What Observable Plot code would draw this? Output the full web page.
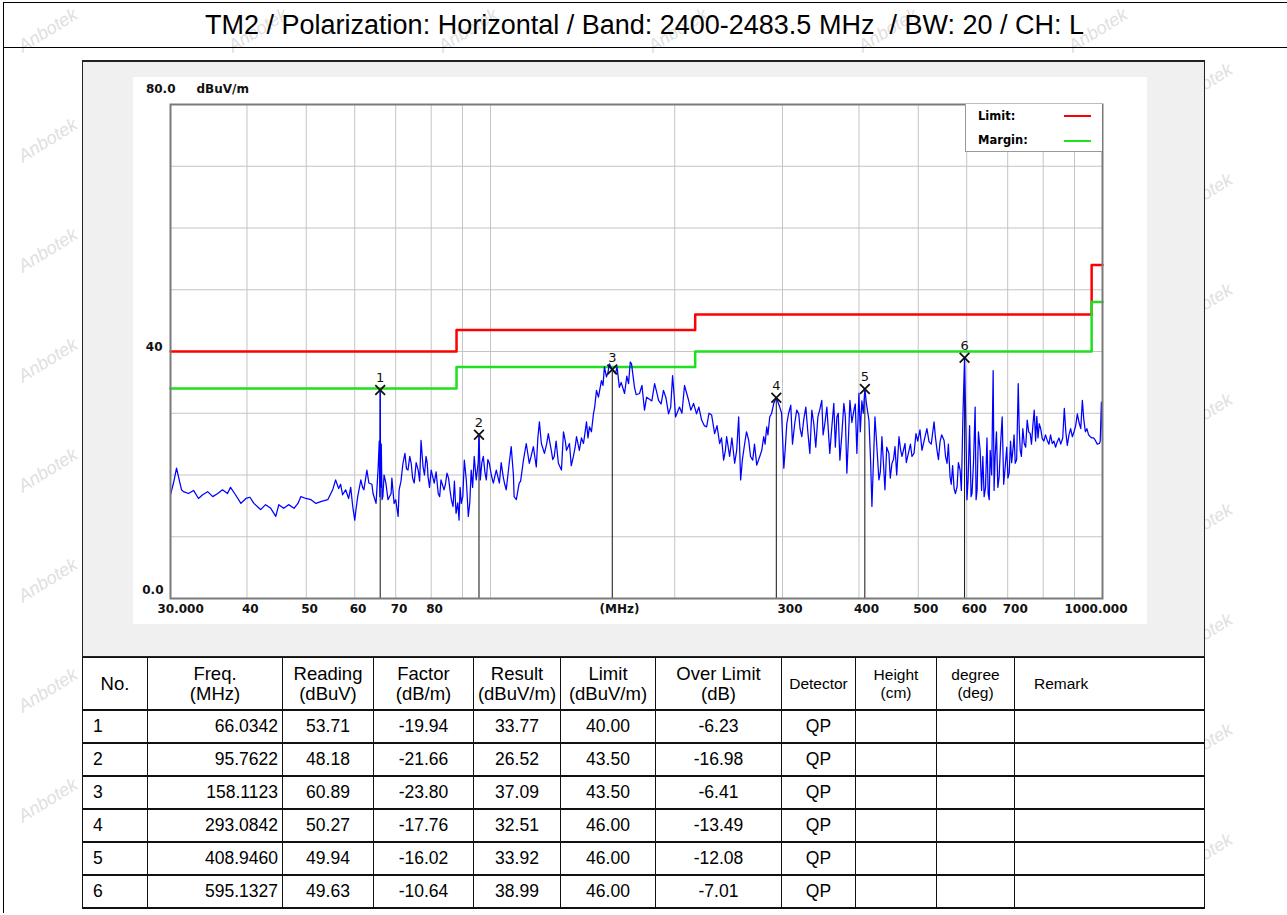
<!DOCTYPE html>
<html><head><meta charset="utf-8">
<script src="https://cdn.jsdelivr.net/npm/d3@7"></script>
<script src="https://cdn.jsdelivr.net/npm/@observablehq/plot@0.6"></script>
<style>
html,body{margin:0;padding:0;background:#fff;}
body{width:1287px;height:915px;position:relative;overflow:hidden;font-family:"Liberation Sans",Arial,sans-serif;}
.wm{position:absolute;color:#e0e0e0;font:italic 18px "Liberation Sans",Arial,sans-serif;transform:rotate(-32deg);white-space:nowrap;z-index:0;}
#outer{position:absolute;left:3px;top:2px;width:1283px;height:910px;border-left:1px solid #000;border-top:1px solid #000;z-index:1;}
#sep{position:absolute;left:3px;top:47px;width:1284px;height:0;border-top:1px solid #000;z-index:1;}
#title{position:absolute;left:3px;top:3px;width:1283px;height:44px;line-height:44px;text-align:center;font-size:27px;white-space:pre;color:#000;z-index:2;}
#panel{position:absolute;left:82px;top:60px;width:1121px;height:594px;background:#f0f0f0;border-top:2px solid #222;border-left:1px solid #222;border-right:1px solid #222;border-bottom:1px solid #222;z-index:2;}
#chart{position:absolute;left:133px;top:77px;z-index:3;}
#legend{position:absolute;left:965px;top:104px;width:136px;height:47px;background:#fff;border-left:1px solid #999;border-bottom:1px solid #999;z-index:4;font:bold 11.5px "DejaVu Sans",sans-serif;}
#legend .t{position:absolute;left:12px;}
#legend .l{position:absolute;left:98px;width:27px;height:0;border-top:2px solid;}
table{position:absolute;left:82px;top:657px;border-collapse:collapse;background:#fff;z-index:2;table-layout:fixed;}
td,th{border:1px solid #111;padding:0;font-weight:normal;color:#000;}
th{height:51px;font-size:18.5px;line-height:20px;}
th.s{font-size:15.5px;line-height:18px;}
td{height:31px;font-size:17.5px;text-align:center;border-bottom-width:2px;border-top-width:2px;}
td.no{text-align:left;padding-left:10px;}
td.fr{text-align:right;padding-right:4px;}
</style></head>
<body>
<div id="wms"></div>
<div id="outer"></div>
<div id="sep"></div>
<div id="title">TM2 / Polarization: Horizontal / Band: 2400-2483.5 MHz  / BW: 20 / CH: L</div>
<div id="panel"></div>
<div id="chart"></div>
<div id="legend">
  <div class="t" style="top:5px">Limit:</div><div class="l" style="top:11px;border-color:#ff0000"></div>
  <div class="t" style="top:29px">Margin:</div><div class="l" style="top:36px;border-color:#1fe01f"></div>
</div>
<table id="tbl"></table>
<script>
// ---------- data ----------
const markerNo = [1, 2, 3, 4, 5, 6];
const markerFreq = [66.0342, 95.7622, 158.1123, 293.0842, 408.9460, 595.1327];
const markerReading = [53.71, 48.18, 60.89, 50.27, 49.94, 49.63];
const markerFactor = [-19.94, -21.66, -23.80, -17.76, -16.02, -10.64];
const markerResult = [33.77, 26.52, 37.09, 32.51, 33.92, 38.99];
const markerLimit = [40.00, 43.50, 43.50, 46.00, 46.00, 46.00];
const markerOver = [-6.23, -16.98, -6.41, -13.49, -12.08, -7.01];
const markerDetector = ["QP", "QP", "QP", "QP", "QP", "QP"];

const limitFreq = [30, 88, 216, 960, 1000];
const limitLevel = [40, 43.5, 46, 54, 54];
const marginLevel = [34, 37.5, 40, 48, 48];

const xGridFreq = [40, 50, 60, 70, 80, 90, 100, 200, 300, 400, 500, 600, 700, 800, 900];
const yGridLevel = [10, 20, 30, 40, 50, 60, 70];
const xTickFreq = [40, 50, 60, 70, 80, 300, 400, 500, 600, 700];
const xTickLabel = ["40", "50", "60", "70", "80", "300", "400", "500", "600", "700"];
const xEndFreq = [30, 1000];
const xEndLabel = ["30.000", "1000.000"];
const yTickLevel = [80, 40, 0];
const yTickLabel = ["80.0", "40", "0.0"];
const unitY = "dBuV/m";
const unitX = "(MHz)";

const trace = [
[30.00,16.8],[30.34,18.7],[30.69,21.1],[30.92,19.7],[31.27,17.6],[31.50,17.3],[32.10,17.0],[32.72,17.5],[33.33,16.2],[33.86,16.8],
[34.50,17.3],[35.17,16.5],[35.83,17.0],[36.48,17.6],[37.17,17.0],[37.60,18.0],[38.31,16.8],[39.10,15.4],[39.84,16.2],[40.45,16.4],
[41.06,15.4],[42.10,14.4],[42.90,15.2],[43.75,14.6],[44.58,13.3],[45.09,15.2],[45.92,14.6],[46.78,15.2],[47.74,14.6],[48.46,15.4],
[49.00,16.5],[49.93,16.2],[50.90,16.0],[51.87,15.4],[52.80,15.7],[54.21,16.0],[55.22,17.6],[55.84,19.2],[56.48,17.8],[56.9,18.5],
[57.33,16.8],[57.98,17.6],[58.64,16.2],[59.1,18.0],[59.55,14.9],[60.00,12.7],[60.3,14.5],[60.68,16.5],[61.40,19.2],[61.8,18.0],
[62.10,17.6],[62.81,20.8],[63.28,18.7],[64.0,18.5],[64.28,17.0],[65.01,15.4],[65.50,20.8],[65.80,25.5],[65.95,16.5],[66.0342,33.77],
[66.15,18.0],[66.30,25.0],[66.50,16.0],[66.70,16.5],[67.0,20.0],[67.46,18.7],[68.0,16.0],[68.80,17.0],[69.0,19.5],[69.58,15.4],
[70.0,16.0],[70.64,13.3],[70.91,17.6],[71.4,19.0],[71.94,21.9],[72.48,23.5],[72.9,21.0],[73.31,20.8],[73.8,23.0],[74.20,21.9],
[74.6,19.5],[75.05,18.7],[75.6,22.0],[76.18,20.8],[76.6,19.0],[77.00,25.6],[77.59,21.3],[78.0,20.0],[78.46,23.0],[78.8,22.0],
[79.06,19.7],[79.5,18.0],[80.00,20.8],[80.91,18.7],[81.5,20.5],[82.14,17.0],[82.6,16.5],[83.00,19.2],[83.95,17.6],[84.4,18.5],
[84.90,20.3],[85.4,19.5],[85.86,17.6],[86.3,16.0],[86.86,14.9],[87.3,19.0],[87.84,13.8],[88.4,15.5],[88.84,12.7],[89.2,18.0],
[89.60,15.4],[90.1,16.5],[90.62,22.4],[91.30,19.2],[91.99,13.3],[92.5,15.5],[93.00,20.8],[93.5,18.0],[94.06,23.0],[94.77,19.2],
[95.48,22.0],[95.7622,26.52],[96.23,19.2],[96.8,22.0],[97.33,23.0],[97.9,20.5],[98.44,19.2],[99.0,22.5],[99.56,21.9],[100.3,20.0],
[101.06,18.7],[102.2,20.8],[103.4,18.7],[104.1,22.0],[104.9,19.7],[105.5,18.5],[106.1,17.6],[107.3,21.9],[108.1,24.6],[109.0,20.0],
[109.3,16.5],[110.2,16.0],[111.4,18.7],[112.0,19.0],[113.2,22.4],[114.4,25.1],[115.7,21.9],[116.5,23.0],[117.5,24.6],[118.8,21.3],
[119.5,26.0],[120.2,28.6],[121.1,25.1],[122.5,23.5],[123.5,25.0],[124.3,26.7],[125.7,24.0],[126.4,22.5],[127.1,23.0],[128.0,25.5],
[129.1,21.9],[130.6,20.8],[131.6,27.0],[132.5,25.5],[133.1,24.0],[134.6,25.1],[135.5,21.5],[136.6,23.0],[137.5,24.5],[138.2,26.2],
[139.7,24.0],[140.8,26.0],[141.9,25.1],[143.5,28.6],[144.3,26.0],[145.1,27.8],[146.2,27.0],[147.3,29.9],[148.0,31.0],[149.0,33.7],
[150.1,32.6],[151.8,35.3],[152.7,34.5],[153.5,37.5],[154.7,35.9],[155.5,36.5],[156.4,38.0],[157.3,37.5],[158.1123,37.09],[160.0,36.4],
[161.0,37.5],[162.4,34.2],[163.5,35.0],[165.6,33.2],[167.0,36.0],[168.1,34.8],[169.2,38.3],[170.0,38.0],[171.9,34.2],[173.0,33.0],
[175.2,33.2],[176.8,34.5],[178.5,30.5],[179.9,32.6],[183.5,32.0],[185.4,34.8],[186.8,33.5],[188.2,32.1],[190.0,31.5],[191.7,33.7],
[193.5,32.5],[195.4,29.9],[197.0,31.0],[198.4,36.1],[199.5,33.0],[200.6,29.4],[203.6,31.0],[205.5,30.0],[207.5,34.5],[210.7,32.1],
[212.5,30.5],[214.7,31.6],[217.1,29.9],[219.0,31.0],[221.3,28.9],[223.5,28.0],[225.5,27.8],[227.5,30.0],[229.8,29.7],[232.4,26.7],
[234.5,28.0],[236.8,25.1],[238.5,26.0],[240.4,22.4],[242.0,24.0],[243.1,26.2],[245.9,23.0],[248.0,26.0],[250.6,21.9],[252.5,24.0],
[254.4,29.4],[256.3,19.2],[258.0,22.5],[260.2,25.1],[262.0,27.0],[264.2,25.6],[266.0,23.0],[268.2,22.4],[270.0,25.0],[272.3,21.6],
[275.4,23.0],[277.5,24.0],[279.5,26.2],[281.0,25.0],[282.7,27.8],[284.0,26.5],[285.9,29.4],[288.0,30.0],[290.3,31.6],[293.0842,32.51],
[296.9,31.0],[299.0,30.0],[301.5,21.1],[303.0,24.0],[304.9,28.3],[307.0,30.0],[309.5,31.3],[311.5,25.0],[314.1,28.3],[316.5,30.5],
[318.9,29.9],[320.5,27.5],[322.6,26.2],[325.0,29.0],[327.5,31.0],[330.0,27.0],[332.5,23.5],[335.0,30.5],[337.5,28.3],[340.0,24.5],
[342.7,29.4],[345.0,30.5],[347.8,32.1],[349.5,26.5],[351.8,28.3],[354.5,31.0],[358.4,23.5],[361.0,27.5],[363.9,31.6],[366.0,24.5],
[368.1,29.4],[370.0,30.0],[372.3,22.4],[375.0,26.5],[377.9,31.6],[380.0,29.5],[382.2,20.3],[384.5,26.0],[386.6,32.1],[389.5,28.5],
[392.5,30.5],[394.5,31.5],[396.9,23.5],[399.9,33.2],[402.0,27.0],[404.4,32.0],[406.5,30.0],[408.946,33.92],[411.5,31.5],[415.3,28.9],
[418.0,22.0],[420.0,14.9],[424.8,29.4],[427.0,26.0],[431.2,19.2],[433.5,20.5],[436.1,26.2],[441.1,17.6],[444.0,24.5],[447.7,23.5],
[450.0,19.5],[452.9,21.9],[455.5,22.5],[458.1,24.6],[461.0,20.0],[465.0,26.2],[468.0,24.0],[470.3,23.0],[475.7,25.1],[478.0,22.0],
[482.9,24.0],[485.5,25.0],[488.3,23.0],[492.0,23.5],[495.7,26.7],[499.0,25.5],[503.2,27.3],[507.0,24.0],[512.9,26.2],[516.5,27.5],
[520.6,25.4],[525.0,25.0],[530.6,28.6],[533.5,26.0],[536.6,24.0],[539.5,22.5],[542.7,25.4],[546.0,26.5],[551.0,25.6],[554.0,23.0],
[557.2,21.9],[560.0,25.0],[563.5,19.7],[566.0,18.5],[569.0,21.5],[572.1,17.8],[575.0,17.0],[578.6,18.1],[581.5,22.0],[585.2,20.8],
[588.0,17.5],[591.8,30.5],[595.1327,38.99],[598.5,26.0],[600.5,16.0],[603.1,19.2],[606.5,28.0],[609.9,16.5],[612.0,17.0],[615.5,22.0],
[619.3,31.0],[621.5,16.0],[623.9,17.6],[627.0,27.0],[631.0,24.0],[634.5,17.5],[637.5,23.0],[640.6,16.5],[644.0,18.0],[647.5,26.0],
[650.4,17.0],[653.0,16.0],[655.3,24.0],[659.0,20.0],[662.7,36.9],[665.0,17.5],[667.7,23.0],[671.0,27.0],[674.5,18.0],[677.8,19.7],
[681.5,25.0],[685.6,29.4],[689.5,18.5],[693.4,21.3],[697.5,24.5],[700.5,19.5],[703.9,20.3],[707.5,25.5],[710.5,22.0],[714.7,24.6],
[717.0,26.5],[720.1,21.9],[724.0,22.5],[728.3,34.8],[731.0,27.5],[733.8,24.0],[737.0,23.0],[741.0,27.5],[744.9,25.1],[749.0,24.5],
[753.3,28.9],[757.5,27.0],[761.9,26.7],[765.5,25.0],[769.5,28.0],[773.5,30.5],[777.5,25.5],[781.0,29.5],[784.5,26.0],[788.2,28.3],
[792.5,27.5],[797.2,25.9],[802.0,25.5],[807.0,26.5],[812.3,25.6],[817.5,25.0],[822.5,26.5],[827.9,25.1],[833.0,25.5],[838.0,24.5],
[843.6,25.4],[849.0,26.0],[854.5,25.0],[861.0,26.0],[866.2,30.8],[871.0,27.0],[876.0,24.8],[881.5,26.5],[887.0,27.5],[892.7,26.2],
[898.5,27.0],[904.0,28.0],[909.7,29.9],[915.5,28.5],[921.5,27.5],[927.0,32.1],[932.0,29.0],[937.6,27.0],[943.0,27.5],[949.0,26.5],
[955.4,26.2],[961.0,26.0],[967.0,26.0],[973.6,25.6],[980.5,25.0],[988.3,25.1],[991.5,25.5],[995.8,31.8],[1000.0,25.6]
];

// ---------- watermark (decoration, kept fully inside the page) ----------
(function(){
  const box = document.getElementById("wms");
  for (let j = 0; j < 17; j++) {
    for (let i = 0; i < 7; i++) {
      const left = i * 210 + (j % 2 ? 105 : 0) + 15;
      const top = j * 55 + 20;
      if (left < 8 || left > 1180 || top > 870) continue;
      const s = document.createElement("span");
      s.className = "wm";
      s.textContent = "Anbotek";
      s.style.left = left + "px";
      s.style.top = top + "px";
      box.appendChild(s);
    }
  }
})();

// ---------- chart ----------
const traceData = trace.slice().sort((a, b) => a[0] - b[0]).map(([f, v]) => ({f, v}));
const limitData = limitFreq.map((f, i) => ({f, v: limitLevel[i]}));
const marginData = limitFreq.map((f, i) => ({f, v: marginLevel[i]}));
const markers = markerNo.map((n, i) => ({no: String(n), f: markerFreq[i], v: markerResult[i]}));
const xTicks = xTickFreq.map((f, i) => ({f, label: xTickLabel[i]}));
const yTicks = yTickLevel.map((v, i) => ({v, label: yTickLabel[i]}));
const lab = {fontFamily: "DejaVu Sans", fontWeight: "bold", fontSize: 12, fill: "#111"};

const chart = Plot.plot({
  width: 1014, height: 547,
  marginLeft: 37, marginRight: 45, marginTop: 27, marginBottom: 26,
  style: {background: "#fff", fontFamily: "DejaVu Sans"},
  x: {type: "log", domain: [30, 1000], axis: null},
  y: {domain: [0, 80], axis: null},
  marks: [
    Plot.ruleX(xGridFreq, {x: d => d, stroke: "#c4c4c4", strokeWidth: 1}),
    Plot.ruleY(yGridLevel, {y: d => d, stroke: "#c4c4c4", strokeWidth: 1}),
    Plot.line(limitData, {x: "f", y: "v", curve: "step-after", stroke: "#ff0000", strokeWidth: 2.5}),
    Plot.line(marginData, {x: "f", y: "v", curve: "step-after", stroke: "#1fe01f", strokeWidth: 2.5}),
    Plot.ruleX(markers, {x: "f", y1: 0, y2: "v", stroke: "#111", strokeWidth: 1}),
    Plot.line(traceData, {x: "f", y: "v", stroke: "#0000ff", strokeWidth: 1.25}),
    Plot.dot(markers, {x: "f", y: "v", symbol: "times", r: 4.5, stroke: "#111", strokeWidth: 1.8}),
    Plot.text(markers, {x: "f", y: "v", text: "no", dy: -12, fontSize: 13, fill: "#111", fontFamily: "DejaVu Sans"}),
    Plot.frame({stroke: "#7a7a7a", strokeWidth: 2}),
    Plot.text(xTicks, {x: "f", text: "label", frameAnchor: "bottom", textAnchor: "start", dx: -5, dy: 14, ...lab}),
    Plot.text([xEndFreq[0]], {x: d => d, text: () => xEndLabel[0], frameAnchor: "bottom", textAnchor: "start", dx: -13, dy: 14, ...lab}),
    Plot.text([xEndFreq[1]], {x: d => d, text: () => xEndLabel[1], frameAnchor: "bottom", textAnchor: "end", dx: 25, dy: 14, ...lab}),
    Plot.text([unitX], {text: d => d, frameAnchor: "bottom", dx: -17, dy: 14, ...lab}),
    Plot.text(yTicks.filter(d => d.v === 80), {y: "v", text: "label", frameAnchor: "left", textAnchor: "end", dx: 5, dy: -15, ...lab}),
    Plot.text([yTickLevel[0]], {y: d => d, text: () => unitY, frameAnchor: "left", textAnchor: "start", dx: 26, dy: -15, ...lab}),
    Plot.text(yTicks.filter(d => d.v === 40), {y: "v", text: "label", frameAnchor: "left", textAnchor: "end", dx: -8, dy: -4, ...lab}),
    Plot.text(yTicks.filter(d => d.v === 0), {y: "v", text: "label", frameAnchor: "left", textAnchor: "end", dx: -7, dy: -8, ...lab})
  ]
});
document.getElementById("chart").appendChild(chart);

// ---------- table ----------
const colWidths = [65, 135, 91, 100, 87, 95, 126, 74, 81, 78, 190];
const headers = [["No."], ["Freq.", "(MHz)"], ["Reading", "(dBuV)"], ["Factor", "(dB/m)"], ["Result", "(dBuV/m)"],
  ["Limit", "(dBuV/m)"], ["Over Limit", "(dB)"], ["Detector"], ["Height", "(cm)"], ["degree", "(deg)"], ["Remark"]];
const small = [false, false, false, false, false, false, false, true, true, true, true];
const tbl = document.getElementById("tbl");
const cg = document.createElement("colgroup");
colWidths.forEach(w => { const c = document.createElement("col"); c.style.width = w + "px"; cg.appendChild(c); });
tbl.appendChild(cg);
tbl.style.width = d3.sum(colWidths) + "px";
const hr = document.createElement("tr");
headers.forEach((h, i) => {
  const th = document.createElement("th");
  th.innerHTML = h.join("<br>");
  if (small[i]) th.className = "s";
  if (i === 10) { th.style.textAlign = "left"; th.style.paddingLeft = "19px"; }
  hr.appendChild(th);
});
tbl.appendChild(hr);
markerNo.forEach((n, i) => {
  const tr = document.createElement("tr");
  const vals = [String(n), markerFreq[i].toFixed(4), markerReading[i].toFixed(2), markerFactor[i].toFixed(2),
    markerResult[i].toFixed(2), markerLimit[i].toFixed(2), markerOver[i].toFixed(2), markerDetector[i], "", "", ""];
  vals.forEach((v, j) => {
    const td = document.createElement("td");
    td.textContent = v;
    if (j === 0) td.className = "no";
    if (j === 1) td.className = "fr";
    tr.appendChild(td);
  });
  tbl.appendChild(tr);
});
</script>
</body></html>
